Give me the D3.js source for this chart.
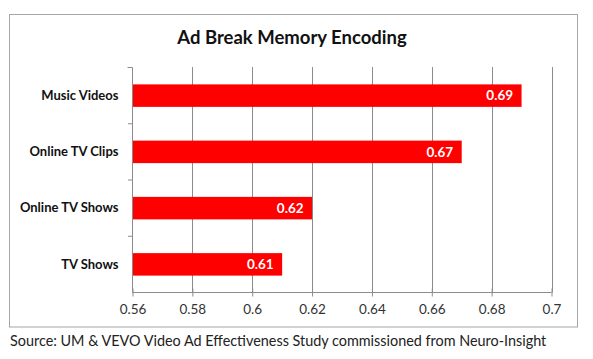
<!DOCTYPE html>
<html><head><meta charset="utf-8">
<script src="https://cdn.jsdelivr.net/npm/d3@7"></script>
<style>body{margin:0;background:#fff}svg{display:block}text{font-family:Lato,"Open Sans",sans-serif}</style>
</head><body>
<script>
const categories = ["Music Videos","Online TV Clips","Online TV Shows","TV Shows"];
const values = [0.69,0.67,0.62,0.61];
const tickValues = [0.56,0.58,0.60,0.62,0.64,0.66,0.68,0.70];
const title = "Ad Break Memory Encoding";
const source = "Source: UM & VEVO Video Ad Effectiveness Study commissioned from Neuro-Insight";

const W=593,H=359;
const svg=d3.select("body").append("svg").attr("width",W).attr("height",H);
svg.append("rect").attr("x",9.5).attr("y",14.5).attr("width",568).attr("height",312.5)
  .attr("fill","#fff").attr("stroke","#a6a6a6").attr("stroke-width",1);

const x=d3.scaleLinear().domain([0.56,0.70]).range([132.5,551.5]);
const y=d3.scaleBand().domain(categories).range([67.5,292.5]).paddingInner(0.6).paddingOuter(0.3);
const band=d3.scaleBand().domain(categories).range([67.5,292.5]);

svg.append("g").selectAll("line").data(tickValues.slice(1)).join("line")
  .attr("x1",d=>Math.round(x(d))+0.5).attr("x2",d=>Math.round(x(d))+0.5)
  .attr("y1",67).attr("y2",292.5).attr("stroke","#8c8c8c").attr("stroke-width",1);

svg.append("g").selectAll("rect").data(values).join("rect")
  .attr("x",x(0.56)).attr("y",(d,i)=>y(categories[i]))
  .attr("width",d=>x(d)-x(0.56)).attr("height",y.bandwidth()).attr("fill","#ff0000");

svg.append("g").selectAll("text").data(values).join("text")
  .attr("x",d=>x(d)-8.5).attr("y",(d,i)=>y(categories[i])+y.bandwidth()/2)
  .attr("dy","0.36em").attr("text-anchor","end").attr("fill","#fff")
  .attr("font-weight","bold").attr("font-size",13.5).text(d=>d.toFixed(2));

const xa=svg.append("g").attr("transform","translate(0,292.5)")
  .call(d3.axisBottom(x).tickValues(tickValues).tickSize(5).tickFormat(d=>d3.format("")(+d.toFixed(2))));
xa.select(".domain").attr("stroke","#8c8c8c").attr("d","M132.5,0H551.5");
xa.selectAll(".tick line").attr("stroke","#8c8c8c").attr("y1",-4).attr("y2",4);
xa.selectAll(".tick text").attr("y",12).attr("font-size",13.5).attr("font-family","Lato").attr("fill","#333");

const ya=svg.append("g").attr("transform","translate(132.5,0)")
  .call(d3.axisLeft(band).tickSize(0).tickPadding(14));
ya.select(".domain").attr("stroke","#8c8c8c").attr("d","M-5,67.5H0V292.5");
ya.selectAll(".tick text").attr("font-size",13).attr("font-weight","bold").attr("font-family","Lato").attr("fill","#111");
svg.append("g").selectAll("line").data(categories.slice(1)).join("line")
  .attr("x1",128).attr("x2",132.5).attr("y1",d=>band(d)).attr("y2",d=>band(d)).attr("stroke","#8c8c8c");

svg.append("text").attr("x",292).attr("y",44).attr("text-anchor","middle")
  .attr("font-size",18.5).attr("font-weight","bold").attr("fill","#111").text(title);
svg.append("text").attr("x",10).attr("y",346).attr("font-size",14.4).attr("fill","#222").text(source);
</script>
</body></html>
